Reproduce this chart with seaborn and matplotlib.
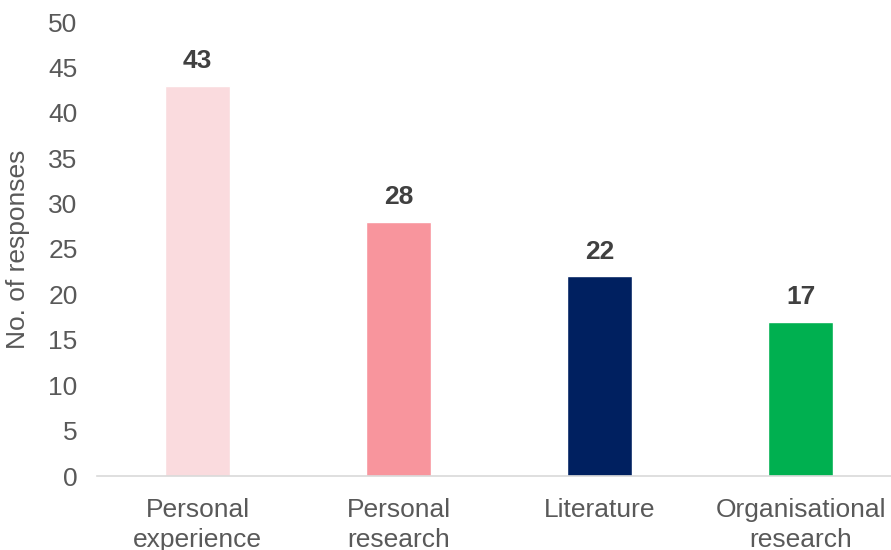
import pandas as pd
import seaborn as sns
import matplotlib.pyplot as plt

categories = ["Personal\nexperience", "Personal\nresearch", "Literature", "Organisational\nresearch"]
responses = [43, 28, 22, 17]
colors = ["#FADBDE", "#F8959D", "#002060", "#00B050"]

sns.set_style("white")
plt.rcParams['font.family'] = ['Liberation Sans', 'DejaVu Sans']

df = pd.DataFrame({"Source": categories, "Responses": responses})

fig = plt.figure(figsize=(8.91, 5.5), dpi=100)
ax = fig.add_axes([97 / 891, 74 / 550, 1 - 97 / 891, 454 / 550])
sns.barplot(ax=ax, data=df, x="Source", y="Responses", hue="Source",
            palette=colors, width=0.32, legend=False, saturation=1)

for i, v in enumerate(responses):
    ax.text(i, v + 1.4, str(v), ha="center", va="bottom",
            fontsize=19, fontweight="bold", color="#404040")

ax.set_xlim(-0.5, 3.45)
ax.set_ylim(0, 50)
ax.set_yticks(range(0, 51, 5))
ax.set_xlabel("")
ax.set_ylabel("No. of responses", fontsize=19, color="#595959")
ax.yaxis.set_label_coords(-0.085, 0.5)
ax.tick_params(axis="both", labelsize=19, labelcolor="#595959", length=0)
ax.tick_params(axis="y", pad=14)
ax.tick_params(axis="x", pad=16)
for lbl in ax.get_xticklabels():
    lbl.set_linespacing(1.3)
sns.despine(ax=ax, left=True)
ax.spines["bottom"].set_color("#D9D9D9")
ax.spines["bottom"].set_linewidth(1.2)

fig.savefig("out.png", dpi=100)
